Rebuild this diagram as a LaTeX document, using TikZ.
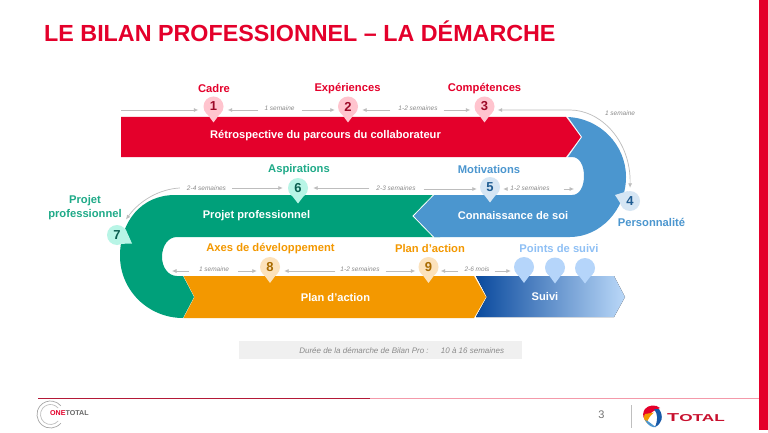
\documentclass[tikz,border=0pt]{standalone}
\usepackage{fontspec}
\setmainfont{Liberation Sans}
\usetikzlibrary{arrows.meta,calc}
\definecolor{cred}{HTML}{E4002B}
\definecolor{cblue}{HTML}{4B96CF}
\definecolor{cgreen}{HTML}{00A07A}
\definecolor{corange}{HTML}{F39800}
\definecolor{cblueD}{HTML}{0A4A9E}
\definecolor{cblueL}{HTML}{BAD8F8}
\definecolor{ltblue}{HTML}{8FC0F5}
\definecolor{txtgreen}{HTML}{1FAA88}
\definecolor{gline}{HTML}{BDBDBD}
\definecolor{gtext}{HTML}{8A8A8A}
\definecolor{pred}{HTML}{FFC4CE}
\definecolor{dred}{HTML}{9C0A28}
\definecolor{pgreen}{HTML}{B8F5E6}
\definecolor{dgreen}{HTML}{0B5F50}
\definecolor{pblue}{HTML}{D6E6F4}
\definecolor{dblue}{HTML}{1F5C92}
\definecolor{porange}{HTML}{FCE2BC}
\definecolor{dorange}{HTML}{A86A00}
\definecolor{psuivi}{HTML}{B5D5FA}
\definecolor{tred}{HTML}{C8102E}
\tikzset{
  x=1pt,y=-1pt,
  conn/.style={draw=gline,line width=.7pt,-{Latex[length=4.5pt,width=4pt]}},
  connboth/.style={draw=gline,line width=.7pt,{Latex[length=4.5pt,width=4pt]}-{Latex[length=4.5pt,width=4pt]}},
  dur/.style={font=\fontsize{6.5}{7}\selectfont\itshape,text=gtext,inner sep=0pt},
  durbox/.style={font=\fontsize{8}{9}\selectfont\itshape,text=gtext,inner sep=0pt},
  head/.style={font=\fontsize{11.2}{13.5}\selectfont\bfseries,inner sep=0pt,align=center},
  band/.style={font=\fontsize{11.1}{12}\selectfont\bfseries,text=white,inner sep=0pt},
  pinnode/.style={circle,minimum size=20pt,inner sep=0pt,font=\fontsize{13}{12}\selectfont\bfseries},
}
% #1 name, #2 x, #3 y, #4 fill, #5 digit colour, #6 digit, #7 tip y
\newcommand{\pinat}[7]{%
  \fill[#4] (#2-9.2,#3+3.5) -- (#2,#7) -- (#2+9.2,#3+3.5) -- cycle;
  \node[pinnode,fill=#4,text=#5] (#1) at (#2,#3) {#6};}
\begin{document}
\begin{tikzpicture}
\useasboundingbox (0,0) rectangle (768,433);
\fill[white] (0,0) rectangle (768,433);
\fill[cred] (759,0) rectangle (768,430);
% title
\node[anchor=base west,inner sep=0pt,text=cred,font=\fontsize{23.3}{26}\selectfont\bfseries] (title) at (44,42) {LE BILAN PROFESSIONNEL – LA DÉMARCHE};
% bands
\fill[cgreen] (440,195) -- (175,195) .. controls (141,195) and (120,222) .. (120,256)
  .. controls (120,290) and (148,318) .. (183,318) -- (194,297) -- (183,276) -- (177,276)
  .. controls (168,276) and (162,267) .. (162,257) .. controls (162,246) and (168,237) .. (177,237) -- (440,237) -- cycle;
\fill[cblue] (567,117) .. controls (600,118) and (626,145) .. (626,177)
  .. controls (626,210) and (600,237) .. (570,237) -- (434,237) -- (413,216) -- (434,195) -- (572,195)
  .. controls (580,195) and (584,186) .. (584,176) .. controls (584,166) and (580,157) .. (572,157) -- (567,157) -- (581,137) -- cycle;
\fill[cred] (121,117) -- (566,117) -- (581,137) -- (566,157) -- (121,157) -- cycle;
\draw[white,line width=.8pt] (567,116.5) -- (581.5,137) -- (567,157.5);
\draw[white,line width=.8pt] (434,194.5) -- (413,216) -- (434,237.5);
\fill[corange] (183.5,276) -- (474,276) -- (486,297) -- (474,318) -- (183.5,318) -- (194.5,297) -- cycle;
\fill[left color=cblueD,right color=cblueL] (476,276) -- (614,276) -- (625,297) -- (614,317) -- (476,317) -- (487,297) -- cycle;
% band labels
\node[band] (b1) at (325.5,136) {Rétrospective du parcours du collaborateur};
\node[band] (b2) at (256.5,215.5) {Projet professionnel};
\node[band] (b3) at (513,215.5) {Connaissance de soi};
\node[band] (b4) at (335.5,297.5) {Plan d'action};
\node[band] (b5) at (545,296.5) {Suivi};
% pins
\pinat{p1}{213.5}{106.5}{pred}{dred}{1}{122.5}
\pinat{p2}{348}{106.5}{pred}{dred}{2}{122.5}
\pinat{p3}{484.5}{106.5}{pred}{dred}{3}{122.5}
\pinat{p5}{490}{187}{pblue}{dblue}{5}{202.5}
\pinat{p6}{298}{188}{pgreen}{dgreen}{6}{203.5}
\pinat{p8}{270}{267}{porange}{dorange}{8}{283}
\pinat{p9}{428.5}{267}{porange}{dorange}{9}{283}
\pinat{s1}{524}{267}{psuivi}{psuivi}{}{283}
\pinat{s2}{555}{267.5}{psuivi}{psuivi}{}{283.5}
\pinat{s3}{585}{268}{psuivi}{psuivi}{}{283.5}
\fill[pblue] (615,195) -- (628,191) -- (624,209) -- cycle;
\node[pinnode,fill=pblue,text=dblue] (p4) at (630,201) {4};
\fill[pgreen] (132,243.5) -- (125.5,229) -- (117,244) -- cycle;
\node[pinnode,fill=pgreen,text=dgreen] (p7) at (117,235) {7};
% headings
\node[head,text=cred] (h1) at (214,88.5) {Cadre};
\node[head,text=cred] (h2) at (347.5,88.5) {Expériences};
\node[head,text=cred] (h3) at (484.5,88.5) {Compétences};
\node[head,text=txtgreen] (h6) at (299,169.5) {Aspirations};
\node[head,text=cblue] (h5) at (489,169.5) {Motivations};
\node[head,text=cblue] (h4) at (651.5,222.5) {Personnalité};
\node[head,text=txtgreen] (h7) at (85,207.5) {Projet\\professionnel};
\node[head,text=corange] (h8) at (270.5,248.5) {Axes de développement};
\node[head,text=corange] (h9) at (430,248.5) {Plan d'action};
\node[head,text=ltblue] (hs) at (559,248.5) {Points de suivi};
% durations
\coordinate (c0) at (121,110);
\node[dur] (d12) at (279.5,108) {1 semaine};
\node[dur] (d23) at (418,108) {1-2 semaines};
\node[dur] (d34) at (620,113) {1 semaine};
\node[dur] (d67) at (206.5,188) {2-4 semaines};
\node[dur] (d56) at (396,188) {2-3 semaines};
\node[dur] (d45) at (530,188) {1-2 semaines};
\coordinate (c45) at (574,189);
\coordinate (c67) at (126,219.5);
\coordinate (c78) at (172,271);
\node[dur] (d78) at (214,269) {1 semaine};
\node[dur] (d89) at (360,269) {1-2 semaines};
\node[dur] (d9s) at (477,269) {2-6 mois};
\draw[conn,shorten >=5pt] (c0) -- (p1.west |- 0,110);
\draw[conn,shorten >=4pt] (d12.west) ++(-6,2) -- (p1.east |- 0,110);
\draw[conn,shorten >=3pt] (d12.east) ++(7,2) -- (p2.west |- 0,110);
\draw[conn,shorten >=4pt] (d23.west) ++(-8,2) -- (p2.east |- 0,110);
\draw[conn,shorten >=4pt] (d23.east) ++(6,2) -- (p3.west |- 0,110);
\draw[connboth,shorten <=3pt,shorten >=3pt] (p4.north) .. controls (631,140) and (600,110) .. (570,110) -- (p3.east |- 0,110);
\draw[conn,shorten >=5pt] (d67.east) ++(6,0) -- (p6.west |- 0,188);
\draw[conn] (d67.west) ++(-7,0) .. controls (160,189) and (140,200) .. (c67);
\draw[conn,shorten >=5pt] (d56.west) ++(-7,0) -- (p6.east |- 0,188);
\draw[conn,shorten >=3pt] (d56.east) ++(8,1) -- (p5.west |- 0,189);
\draw[conn,shorten >=3pt] (d45.west) ++(-5,1) -- (p5.east |- 0,189);
\draw[conn] (d45.east) ++(14,1) -- (c45);
\draw[conn] (d78.west) ++(-10,2) -- (c78);
\draw[conn,shorten >=3pt] (d78.east) ++(9,2) -- (p8.west |- 0,271);
\draw[conn,shorten >=4pt] (d89.west) ++(-5,2) -- (p8.east |- 0,271);
\draw[conn,shorten >=3pt] (d89.east) ++(6,2) -- (p9.west |- 0,271);
\draw[conn,shorten >=2pt] (d9s.west) ++(-6,2) -- (p9.east |- 0,271);
\draw[conn,shorten >=3pt] (d9s.east) ++(5,2) -- (s1.west |- 0,271);
% duration box
\fill[black!6] (239,341) rectangle (522,359);
\node[durbox] (t1) at (364,350.5) {Durée de la démarche de Bilan Pro :};
\node[durbox] (t2) at (472.5,350.5) {10 à 16 semaines};
% footer
\draw[draw=cred!40,line width=.8pt] (370,398.5) -- (759,398.5);
\draw[cred!75!black!90,line width=1pt] (38,398) -- (370,398);
\node[font=\fontsize{11}{12}\selectfont,text=black!55,inner sep=0pt] (pg) at (601.5,415) {3};
\draw[black!25,line width=1pt] (631,405) -- (631,428);
% One Total logo
\foreach \r/\c in {13.5/black!35,10/black!25}
  \draw[\c,line width=.7pt] (50.5,414.5) ++(40:\r) arc[start angle=40,end angle=320,radius=\r];
\node[font=\fontsize{7.1}{9}\selectfont\bfseries,inner sep=.5pt,anchor=west,fill=white] (ot) at (49.5,413.5) {\textcolor{cred}{ONE}\textcolor{black!60}{TOTAL}};
% Total logo
\fill[white] (652,416.5) circle[radius=10.5];
\fill[cred] (645,409) .. controls (648,405) and (656,404) .. (660,408) .. controls (655,410) and (650,412) .. (645,420) .. controls (642,416) and (643,412) .. (645,409) -- cycle;
\fill[corange] (645,414) -- (654,412.5) .. controls (651,415) and (648,418) .. (647,423) .. controls (644,420) and (643,417) .. (645,414) -- cycle;
\fill[cblueD!80!cblue] (659,409) .. controls (664,416) and (662,424) .. (655,427) .. controls (658,420) and (658,414) .. (654,409) -- cycle;
\fill[cblue] (645,420) .. controls (648,426) and (653,428) .. (656,427) .. controls (652,425) and (648,420) .. (645,420) -- cycle;
\node[inner sep=0pt,anchor=west,text=tred,font=\fontsize{11.5}{12}\selectfont\bfseries] (tot) at (667,417.5) {\scalebox{1.72}[1]{T\fontsize{10}{12}\selectfont OTAL}};
\end{tikzpicture}
\end{document}
